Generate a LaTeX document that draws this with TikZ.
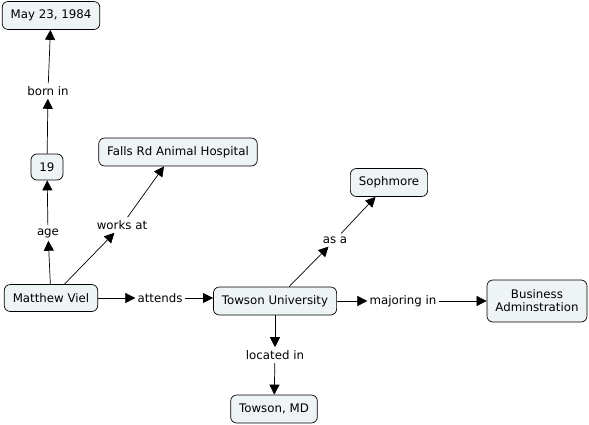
\documentclass[tikz,border=0pt]{standalone}
\usepackage{fontspec}
\setmainfont{DejaVu Sans}
\usetikzlibrary{arrows.meta}
\definecolor{cmapFill}{HTML}{EEF3F6}
\begin{document}
\begin{tikzpicture}[
    x=1pt,y=-1pt,
    conceptNode/.style={rectangle,rounded corners=6pt,draw=black,fill=cmapFill,line width=0.7pt,minimum height=28pt,inner xsep=8.5pt,inner ysep=3pt,font=\fontsize{11.8}{13}\selectfont,align=center},
    linkLabel/.style={inner xsep=2pt,inner ysep=3pt,font=\fontsize{11.8}{13}\selectfont},
    linkArr/.style={-{Triangle[length=10pt,width=10pt]},line width=0.7pt},
]
\useasboundingbox (0,0) rectangle (589,425);
\node[conceptNode] (birthDate) at (51,15.5) {May 23, 1984};
\node[linkLabel] (bornIn) at (48,91) {born in};
\node[conceptNode,minimum height=26pt] (ageVal) at (47,167) {19};
\node[linkLabel] (age) at (48,233) {age};
\node[conceptNode] (hospital) at (178,152) {Falls Rd Animal Hospital};
\node[linkLabel] (worksAt) at (122,225) {works at};
\node[conceptNode,minimum height=27pt] (matt) at (51,298) {Matthew Viel};
\node[linkLabel] (attends) at (160,298) {attends};
\node[conceptNode] (towsonU) at (275,301) {Towson University};
\node[linkLabel] (asA) at (335,240) {as a};
\node[conceptNode] (soph) at (389,182.5) {Sophmore};
\node[linkLabel] (majoring) at (403,301) {majoring in};
\node[conceptNode,minimum height=42pt,inner ysep=2pt] (business) at (537,301) {Business\\Adminstration};
\node[linkLabel] (locatedIn) at (275,355) {located in};
\node[conceptNode] (towsonMD) at (274,409) {Towson, MD};
% links
\draw[linkArr] (matt) -- (age);
\draw[linkArr] (age) -- (ageVal);
\draw[linkArr] (ageVal) -- (bornIn);
\draw[linkArr] (bornIn) -- (birthDate);
\draw[linkArr] (matt) -- (worksAt);
\draw[linkArr] (worksAt) -- ([xshift=-14pt]hospital.south);
\draw[linkArr] (matt) -- (attends);
\draw[linkArr] (attends.east) -- (attends.east -| towsonU.west);
\draw[linkArr] (towsonU) -- (asA);
\draw[linkArr] (asA) -- (soph);
\draw[linkArr] (towsonU) -- (majoring);
\draw[linkArr] (majoring) -- (business);
\draw[linkArr] (towsonU) -- (locatedIn);
\draw[linkArr] (locatedIn) -- (towsonMD);
\end{tikzpicture}
\end{document}
